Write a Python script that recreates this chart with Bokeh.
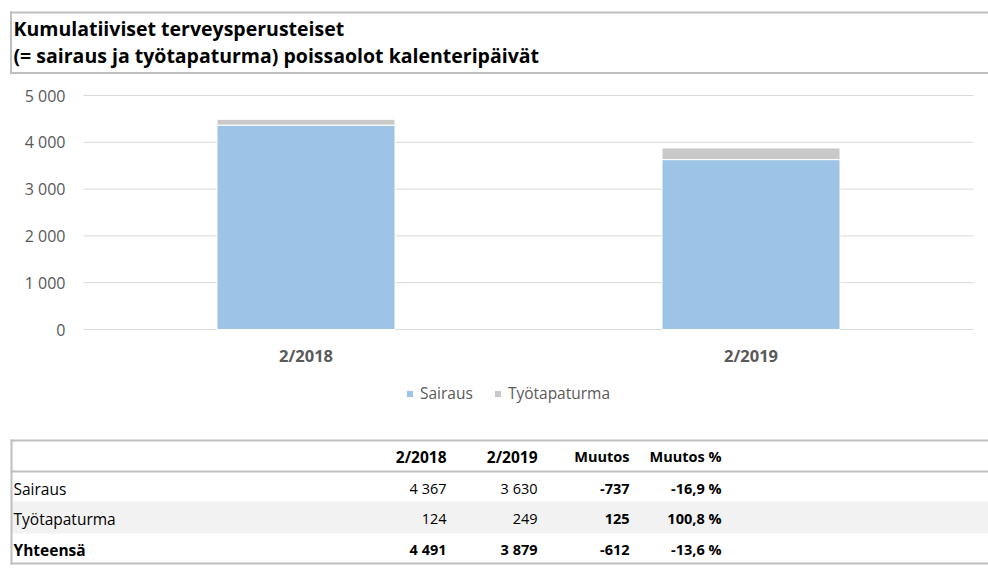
from bokeh.plotting import figure
from bokeh.models import Range1d, Legend, LegendItem, ColumnDataSource
from bokeh.core.properties import value
from bokeh.embed import file_html
from bokeh.resources import INLINE

# ---------------- data ----------------
periods = ["2/2018", "2/2019"]
sairaus = [4367, 3630]
tyotapaturma = [124, 249]
series_names = ["Sairaus", "Työtapaturma"]
series_colors = ["#9DC3E6", "#C9C9C9"]
y_ticks = [0, 1000, 2000, 3000, 4000, 5000]

title_lines = ["Kumulatiiviset terveysperusteiset",
               "(= sairaus ja työtapaturma) poissaolot kalenteripäivät"]

table_columns = ["2/2018", "2/2019", "Muutos", "Muutos %"]
row_labels = ["Sairaus", "Työtapaturma", "Yhteensä"]
values_2018 = [4367, 124, 4491]
values_2019 = [3630, 249, 3879]
muutos = [-737, 125, -612]
muutos_pct = [-16.9, 100.8, -13.6]

FONT = "Open Sans"
W, H = 988, 586
AX = "#595959"
LINE = "#BFBFBF"
GRID = "#D9D9D9"

# chart plotting area, in page pixels
FL, FR, FT, FB = 83, 973, 95, 329
YMAX = y_ticks[-1]
NCAT = len(periods)


def fmt_int(v):
    s = f"{abs(v):,}".replace(",", " ")
    return ("-" if v < 0 else "") + s


def fmt_pct(v):
    return f"{v:.1f}".replace(".", ",") + " %"


p = figure(width=W, height=H, x_range=Range1d(0, W), y_range=Range1d(H, 0),
           output_backend="svg", toolbar_location=None,
           min_border=0, min_border_left=0, min_border_right=0,
           min_border_top=0, min_border_bottom=0)
p.axis.visible = False
p.grid.visible = False
p.outline_line_color = None

# chart coordinate system: categories 0..NCAT across FL..FR, values 0..YMAX across FB..FT
ux = (FR - FL) / NCAT
uy = (FB - FT) / YMAX
p.extra_x_ranges = {"cx": Range1d(start=-FL / ux, end=NCAT + (W - FR) / ux)}
p.extra_y_ranges = {"cy": Range1d(start=-(H - FB) / uy, end=YMAX + FT / uy)}

# gridlines
p.segment(x0=[0] * len(y_ticks), x1=[NCAT] * len(y_ticks), y0=y_ticks, y1=y_ticks,
          line_color=GRID, line_width=1, x_range_name="cx", y_range_name="cy")
# y tick labels
p.text(x=[FL - 18] * len(y_ticks), y=y_ticks, text=[fmt_int(t) for t in y_ticks],
       y_range_name="cy", text_font=value(FONT), text_font_size="16px",
       text_color=AX, text_align="right", text_baseline="middle")

# bars
xpos = [i + 0.5 for i in range(NCAT)]
src = ColumnDataSource(dict(x=xpos, s1=sairaus, s2=tyotapaturma))
rs = p.vbar_stack(["s1", "s2"], x="x", width=0.4, color=series_colors,
                  line_color="white", line_width=1, source=src,
                  x_range_name="cx", y_range_name="cy")
# category labels
p.text(x=xpos, y=[0] * NCAT, text=periods, x_range_name="cx", y_range_name="cy",
       y_offset=26, text_font=value(FONT), text_font_size="16.5px",
       text_font_style="bold", text_color=AX, text_align="center", text_baseline="middle")

legend = Legend(items=[LegendItem(label=n, renderers=[r]) for n, r in zip(series_names, rs)],
                orientation="horizontal", location=(405, H - 404),
                border_line_color=None, background_fill_alpha=0,
                label_text_font=FONT, label_text_font_size="15.5px", label_text_color=AX,
                glyph_width=9, glyph_height=9, label_standoff=6, spacing=20,
                padding=0, margin=0)
p.add_layout(legend, "center")

# ---------------- title box ----------------
p.quad(left=[9.5, 9.5, 9.5], right=[W + 5, W + 5, 11.5], top=[11, 71.5, 11],
       bottom=[13, 73.5, 73.5], fill_color=LINE, line_color=None)
p.text(x=[13, 13], y=[28, 54.5], text=title_lines, text_font=value(FONT),
       text_font_size="19.5px", text_font_style="bold", text_color="#000000",
       text_align="left", text_baseline="alphabetic")

# ---------------- table ----------------
p.quad(left=[11], right=[W + 5], top=[501], bottom=[533], fill_color="#F2F2F2",
       line_color=None)
p.quad(left=[10, 10, 10, 10], right=[W + 5, W + 5, W + 5, 12], top=[439, 470, 562, 439],
       bottom=[441, 472, 564, 564], fill_color=LINE, line_color=None)

col_right = [446, 537, 629, 721]
header_base = 456
row_base = [488, 518, 549]


def texts(xs, ys, txt, size, bold, align):
    p.text(x=xs, y=ys, text=txt, text_font=value(FONT), text_font_size=size,
           text_font_style="bold" if bold else "normal", text_color="#000000",
           text_align=align, text_baseline="alphabetic")


texts(col_right[:2], [header_base] * 2, table_columns[:2], "15.5px", True, "right")
texts(col_right[2:], [header_base] * 2, table_columns[2:], "14.5px", True, "right")
for i, lab in enumerate(row_labels):
    total = (i == len(row_labels) - 1)
    texts([13], [row_base[i]], [lab], "15.5px", total, "left")
    texts(col_right[:2], [row_base[i]] * 2,
          [fmt_int(values_2018[i]), fmt_int(values_2019[i])], "14.5px", total, "right")
    texts(col_right[2:], [row_base[i]] * 2,
          [fmt_int(muutos[i]), fmt_pct(muutos_pct[i])], "14.5px", True, "right")

open("out.html", "w").write(file_html(p, INLINE))
